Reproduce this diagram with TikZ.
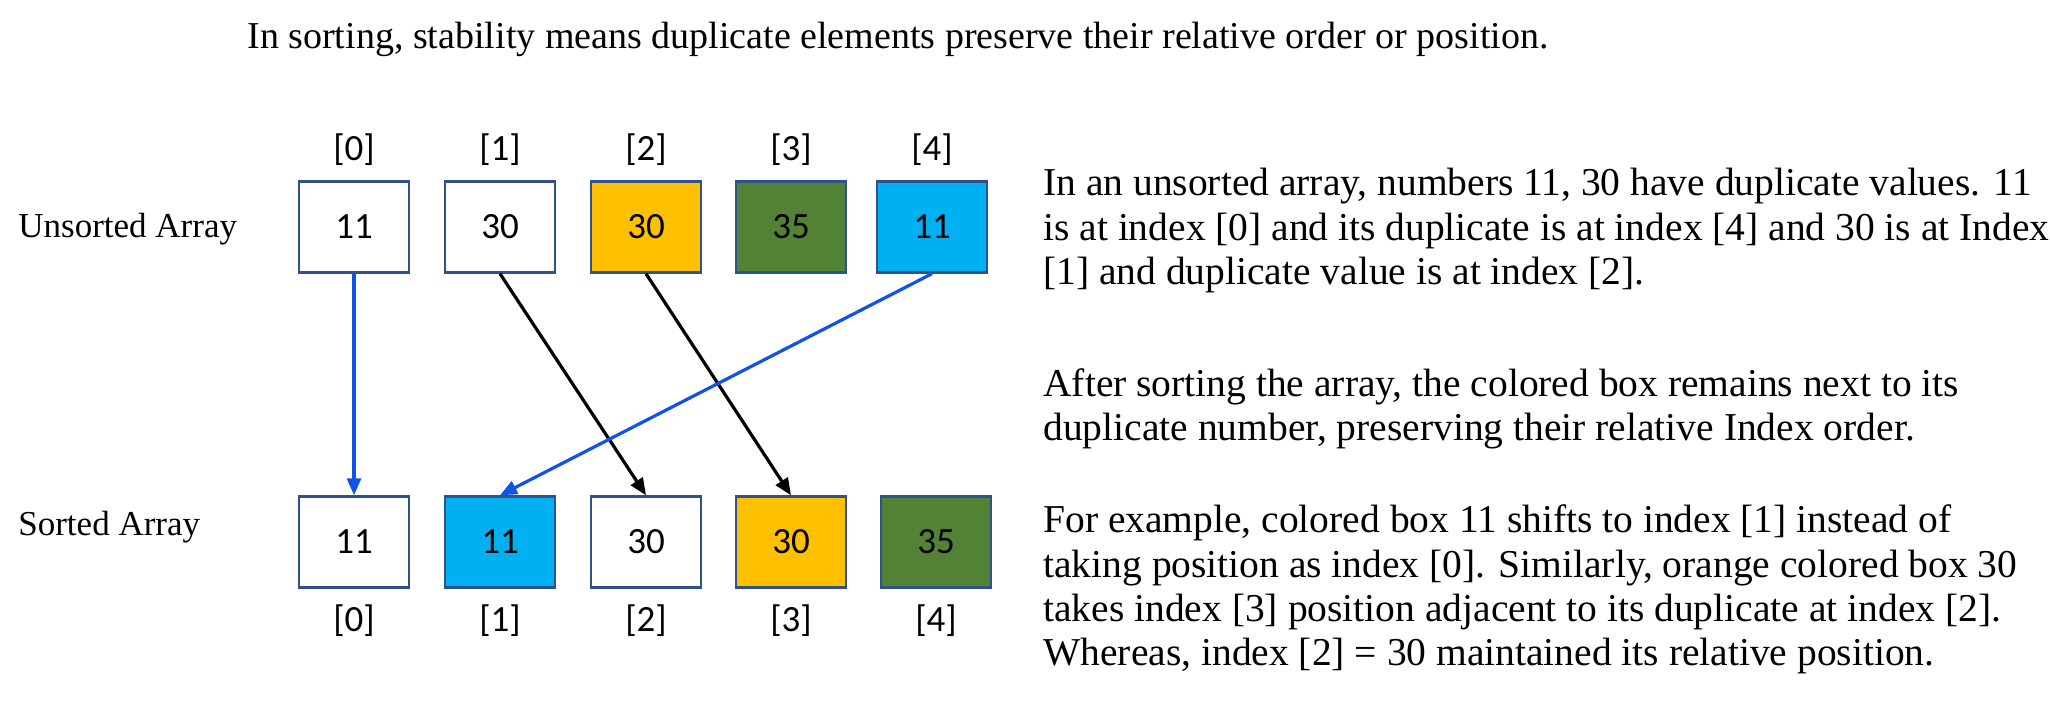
\documentclass[tikz,border=0pt]{standalone}
\usepackage{fontspec}
\setmainfont{Liberation Serif}
\newfontfamily\boxfont{Carlito}
\usetikzlibrary{arrows.meta}
\tikzset{every picture/.style={line width=0.75pt}}
\definecolor{boxline}{RGB}{47,82,143}
\definecolor{arrblue}{RGB}{17,83,230}
\definecolor{cellorange}{RGB}{255,192,0}
\definecolor{cellgreen}{RGB}{84,130,53}
\definecolor{cellcyan}{RGB}{0,176,240}
\tikzset{
  cell/.style={draw=boxline, line width=2.4pt, minimum width=110pt, minimum height=91pt, inner sep=0pt, font=\boxfont\fontsize{37}{42}\selectfont},
  idx/.style={inner sep=0pt, font=\boxfont\fontsize{37}{42}\selectfont},
  blurb/.style={anchor=base west, inner sep=0pt, font=\fontsize{39.5}{46}\selectfont},
  move/.style={-{Triangle[length=17pt,width=14pt]}, line width=3.2pt}
}

\begin{document}
\begin{tikzpicture}[x=1pt,y=-1pt]
\useasboundingbox (0,0) rectangle (2050,704);

% Title
\node (title) [anchor=base west, inner sep=0pt, font=\fontsize{38}{44}\selectfont] at (247,48) {In sorting, stability means duplicate elements preserve their relative order or position.};

% Unsorted row
\node (ulabel) [anchor=west, inner sep=0pt, font=\fontsize{35}{40}\selectfont] at (18,229) {Unsorted Array};
\node (u0) [cell] at (354,227) {11};
\node (u1) [cell] at (500,227) {30};
\node (u2) [cell, fill=cellorange] at (646,227) {30};
\node (u3) [cell, fill=cellgreen] at (791,227) {35};
\node (u4) [cell, fill=cellcyan] at (932,227) {11};
\foreach \i in {0,...,4}
  \node (ui\i) [idx, anchor=south] at ([yshift=14pt]u\i.north) {[\i]};

% Sorted row
\node (slabel) [anchor=west, inner sep=0pt, font=\fontsize{35}{40}\selectfont] at (18,527) {Sorted Array};
\node (s0) [cell] at (354,542) {11};
\node (s1) [cell, fill=cellcyan] at (500,542) {11};
\node (s2) [cell] at (646,542) {30};
\node (s3) [cell, fill=cellorange] at (791,542) {30};
\node (s4) [cell, fill=cellgreen] at (936,542) {35};
\foreach \i in {0,...,4}
  \node (si\i) [idx, anchor=north] at ([yshift=-16pt]s\i.south) {[\i]};

% Moves
\draw [move, arrblue] (u0.south) -- (s0.north);
\draw [move] (u1.south) -- (s2.north);
\draw [move] (u2.south) -- (s3.north);
\draw [move, arrblue] (u4.south) -- (s1.north);

% Explanation
\node (p1a) [blurb] at (1043,195) {In an unsorted array, numbers 11, 30 have duplicate values. 11};
\node (p1b) [blurb] at (1043,240) {is at index [0] and its duplicate is at index [4] and 30 is at Index};
\node (p1c) [blurb] at (1043,284) {[1] and duplicate value is at index [2].};
\node (p2a) [blurb] at (1043,396) {After sorting the array, the colored box remains next to its};
\node (p2b) [blurb] at (1043,440) {duplicate number, preserving their relative Index order.};
\node (p3a) [blurb] at (1043,532) {For example, colored box 11 shifts to index [1] instead of};
\node (p3b) [blurb] at (1043,577) {taking position as index [0]. Similarly, orange colored box 30};
\node (p3c) [blurb] at (1043,621) {takes index [3] position adjacent to its duplicate at index [2].};
\node (p3d) [blurb] at (1043,665) {Whereas, index [2] = 30 maintained its relative position.};

\end{tikzpicture}
\end{document}
